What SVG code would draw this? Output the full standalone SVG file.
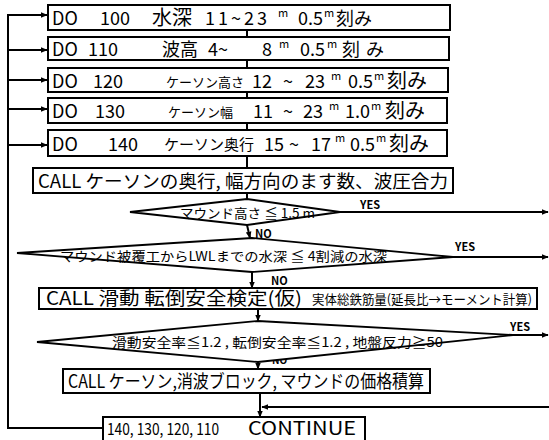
<svg xmlns="http://www.w3.org/2000/svg" width="549" height="440" viewBox="0 0 549 440">
<defs>
<marker id="ah" viewBox="0 0 10 10" refX="9" refY="5" markerWidth="7" markerHeight="7" orient="auto" markerUnits="userSpaceOnUse">
<path d="M0,1 L10,5 L0,9 Z" fill="#000"/>
</marker>
</defs>
<style>
rect.b{fill:#fff;stroke:#000;stroke-width:2}
polygon.d{fill:#fff;stroke:#000;stroke-width:1.8}
text{font-family:"Noto Sans CJK JP","Liberation Sans",sans-serif;fill:#000}
.t{font-size:18px}
.k{font-size:13px}
.s{font-size:11px}
.m{font-size:13px}
.l{font-size:11px;font-weight:bold}
#conn line,#conn polyline{stroke:#000;stroke-width:2;fill:none}
</style>
<rect width="549" height="440" fill="#fff"/>
<g id="conn">
<polyline points="103,428 8,428 8,15 47,15" marker-end="url(#ah)"/>
<line x1="8" y1="50" x2="47" y2="50" marker-end="url(#ah)"/>
<line x1="8" y1="80" x2="47" y2="80" marker-end="url(#ah)"/>
<line x1="8" y1="109" x2="47" y2="109" marker-end="url(#ah)"/>
<line x1="8" y1="145" x2="47" y2="145" marker-end="url(#ah)"/>
<line x1="247" y1="30" x2="247" y2="37"/>
<line x1="247" y1="60" x2="247" y2="68"/>
<line x1="247" y1="92" x2="247" y2="98"/>
<line x1="247" y1="123" x2="247" y2="130"/>
<line x1="247" y1="156" x2="247" y2="168"/>
<line x1="247" y1="193" x2="247" y2="199"/>
<line x1="247" y1="225" x2="250" y2="238" marker-end="url(#ah)"/>
<line x1="252" y1="272" x2="252" y2="288" marker-end="url(#ah)"/>
<line x1="258" y1="309" x2="258" y2="321" marker-end="url(#ah)"/>
<line x1="258" y1="362" x2="258" y2="369" marker-end="url(#ah)"/>
<line x1="260" y1="393" x2="260" y2="417" marker-end="url(#ah)"/>
<line x1="549" y1="407" x2="262" y2="407" marker-end="url(#ah)"/>
<line x1="340" y1="212" x2="548" y2="212" marker-end="url(#ah)"/>
<line x1="453" y1="257" x2="548" y2="257" marker-end="url(#ah)"/>
<line x1="513" y1="335" x2="548" y2="335" marker-end="url(#ah)"/>
<text class="l" x="360" y="209">YES</text>
<text class="l" x="455" y="251">YES</text>
<text class="l" x="510" y="331">YES</text>
<text class="l" x="255" y="238">NO</text>
<text class="l" x="271" y="285">NO</text>
<text class="l" x="272" y="364" style="font-size:10px">NO</text>
</g>
<g id="do100">
<rect class="b" x="48" y="5" width="402" height="25"/>
<text class="t" x="52" y="25">DO</text>
<text class="t" x="100" y="25">100</text>
<text class="t" x="152" y="25" style="font-size:20px">水深</text>
<text class="t" x="205" y="25" letter-spacing="3">11~23</text>
<text class="s" x="278" y="17">m</text>
<text class="t" x="298" y="25">0.5</text>
<text class="s" x="324" y="17">m</text>
<text class="t" x="336" y="25">刻み</text>
</g>
<g id="do110">
<rect class="b" x="48" y="37" width="401" height="23"/>
<text class="t" x="52" y="56">DO</text>
<text class="t" x="88" y="56">110</text>
<text class="t" x="162" y="56">波高</text>
<text class="t" x="208" y="56">4~</text>
<text class="t" x="262" y="56">8</text>
<text class="s" x="279" y="48">m</text>
<text class="t" x="300" y="56">0.5</text>
<text class="s" x="327" y="48">m</text>
<text class="t" x="342" y="56">刻</text>
<text class="t" x="366" y="56">み</text>
</g>
<g id="do120">
<rect class="b" x="48" y="68" width="400" height="24"/>
<text class="t" x="52" y="88">DO</text>
<text class="t" x="93" y="88">120</text>
<text class="k" x="166" y="87">ケーソン高さ</text>
<text class="t" x="252" y="88">12</text>
<text class="t" x="283" y="88">~</text>
<text class="t" x="305" y="88">23</text>
<text class="s" x="331" y="80">m</text>
<text class="t" x="348" y="88">0.5</text>
<text class="s" x="374" y="80">m</text>
<text class="t" x="387" y="88" style="font-size:20px">刻み</text>
</g>
<g id="do130">
<rect class="b" x="48" y="98" width="399" height="25"/>
<text class="t" x="52" y="118">DO</text>
<text class="t" x="95" y="118">130</text>
<text class="k" x="168" y="117">ケーソン幅</text>
<text class="t" x="253" y="118">11</text>
<text class="t" x="283" y="118">~</text>
<text class="t" x="303" y="118">23</text>
<text class="s" x="329" y="110">m</text>
<text class="t" x="345" y="118">1.0</text>
<text class="s" x="371" y="110">m</text>
<text class="t" x="385" y="118" style="font-size:20px">刻み</text>
</g>
<g id="do140">
<rect class="b" x="48" y="130" width="399" height="26"/>
<text class="t" x="52" y="151">DO</text>
<text class="t" x="108" y="151">140</text>
<text class="t" x="164" y="150" style="font-size:15px">ケーソン奥行</text>
<text class="t" x="264" y="151">15</text>
<text class="t" x="289" y="151">~</text>
<text class="t" x="311" y="151">17</text>
<text class="s" x="335" y="142">m</text>
<text class="t" x="350" y="151">0.5</text>
<text class="s" x="376" y="142">m</text>
<text class="t" x="389" y="151" style="font-size:20px">刻み</text>
</g>
<g id="call1">
<rect class="b" x="33" y="168" width="420" height="25"/>
<text class="t" x="38" y="188" textLength="410" lengthAdjust="spacingAndGlyphs">CALL ケーソンの奥行, 幅方向のます数、波圧合力</text>
</g>
<g id="dec1">
<polygon class="d" points="130,212 247,199 340,212 247,225"/>
<text class="m" x="180" y="218" textLength="135" lengthAdjust="spacingAndGlyphs">マウンド高さ ≦ 1.5 m</text>
</g>
<g id="dec2">
<polygon class="d" points="17,253 252,238 453,257 252,272"/>
<text class="m" x="60" y="261" textLength="327" lengthAdjust="spacingAndGlyphs">マウンド被覆工からLWLまでの水深 ≦ 4割減の水深</text>
</g>
<g id="call2">
<rect class="b" x="39" y="288" width="498" height="21"/>
<text class="t" x="46" y="305" textLength="256" lengthAdjust="spacingAndGlyphs">CALL 滑動 転倒安全検定(仮)</text>
<text class="m" x="312" y="304" textLength="220" lengthAdjust="spacingAndGlyphs">実体総鉄筋量(延長比→モーメント計算)</text>
</g>
<g id="dec3">
<polygon class="d" points="37,342 258,321 513,335 258,362"/>
<text class="m" x="112" y="347" textLength="331" lengthAdjust="spacingAndGlyphs">滑動安全率≦1.2 , 転倒安全率≦1.2 , 地盤反力≧50</text>
</g>
<g id="call3">
<rect class="b" x="63" y="369" width="367" height="24"/>
<text class="t" x="68" y="388" textLength="356" lengthAdjust="spacingAndGlyphs">CALL ケーソン,消波ブロック, マウンドの価格積算</text>
</g>
<g id="cont">
<rect class="b" x="103" y="417" width="262" height="30"/>
<text class="t" x="107" y="435" style="font-size:16px" textLength="112" lengthAdjust="spacingAndGlyphs">140, 130, 120, 110</text>
<text class="t" x="248" y="435" textLength="108" lengthAdjust="spacingAndGlyphs">CONTINUE</text>
</g>
</svg>
